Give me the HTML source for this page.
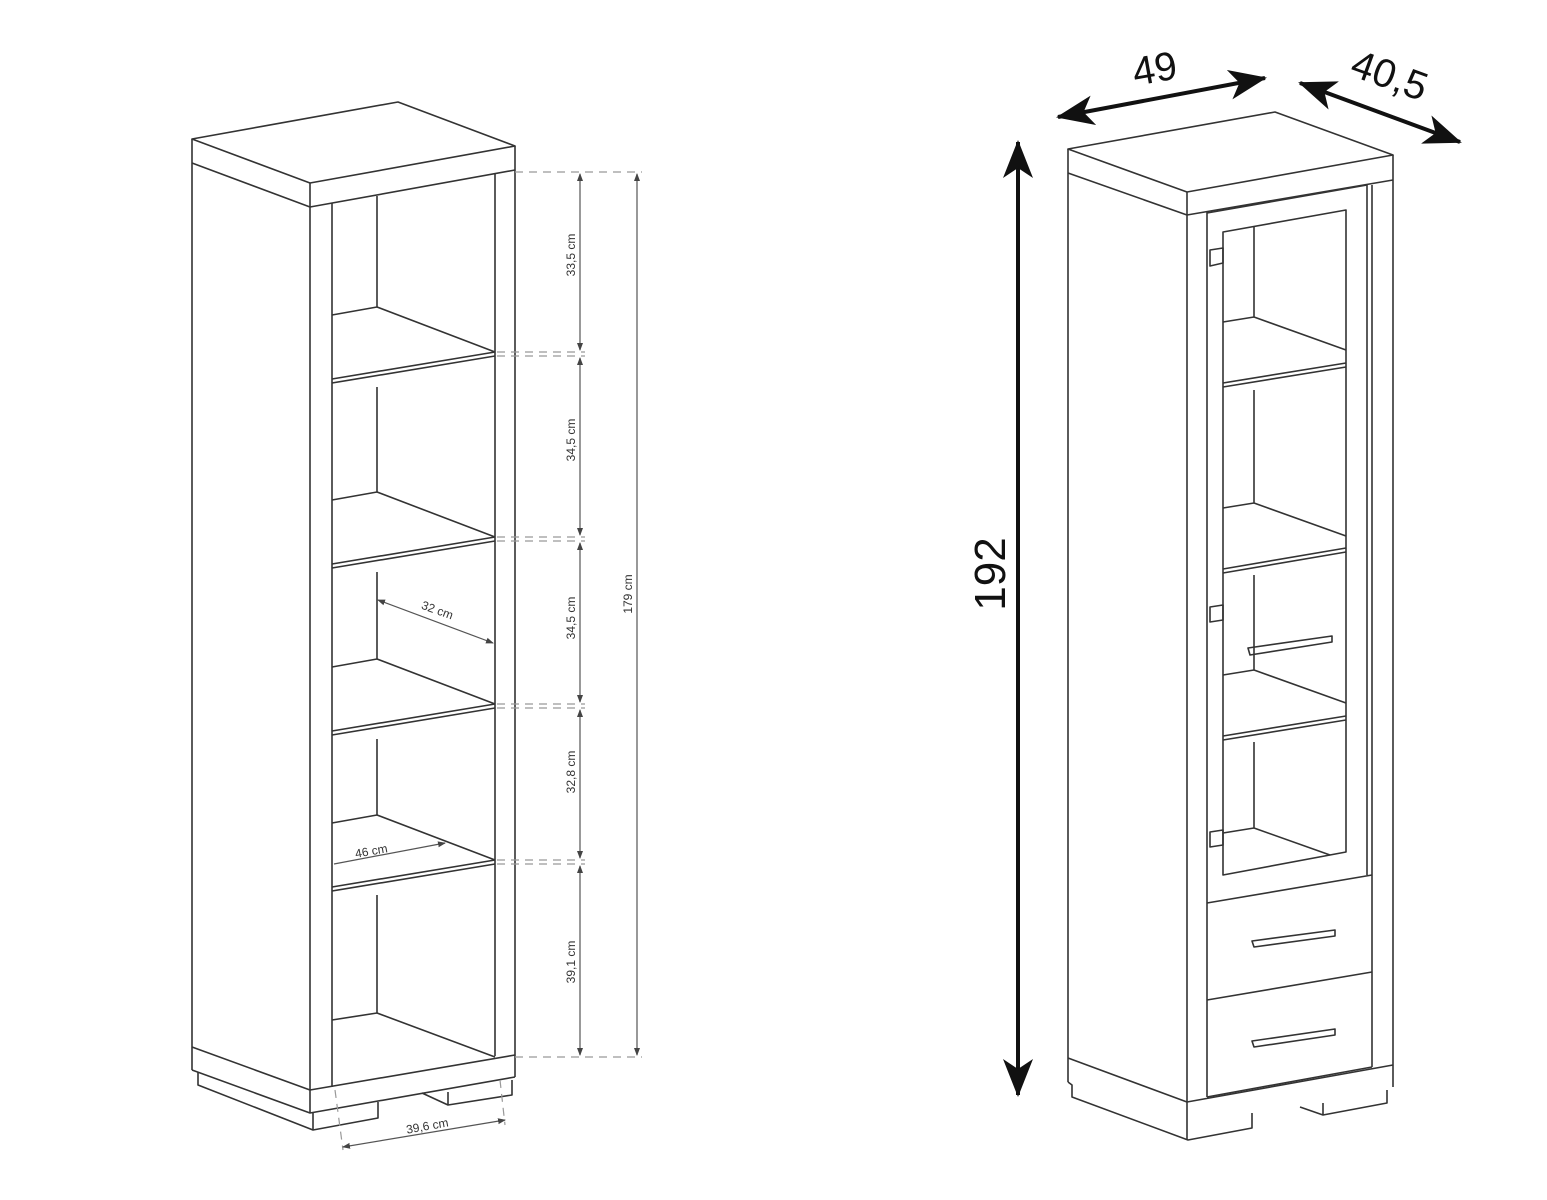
<!DOCTYPE html>
<html><head><meta charset="utf-8"><style>body{margin:0;background:#fff}svg{display:block}</style></head>
<body>
<svg width="1547" height="1200" viewBox="0 0 1547 1200" xmlns="http://www.w3.org/2000/svg">
<defs>
<marker id="sa" markerWidth="8" markerHeight="8" refX="7" refY="4" orient="auto-start-reverse" markerUnits="userSpaceOnUse"><path d="M0,1 L8,4 L0,7 z" fill="#444"/></marker>
<marker id="ba" markerWidth="40" markerHeight="30" refX="36" refY="15" orient="auto-start-reverse" markerUnits="userSpaceOnUse"><path d="M0,0 L38,15 L0,30 L10,15 z" fill="#111"/></marker>
</defs>
<g fill="none" stroke="#333" stroke-width="1.6" stroke-linejoin="round">
<!-- LEFT CABINET -->
<path d="M192,139 L398,102 L515,146 L310,183 Z"/>
<path d="M192,139 L192,1070 M310,183 L310,1113 M515,146 L515,1077"/>
<path d="M192,163 L310,207 L515,170"/>
<path d="M332,203 L332,1087 M495,174 L495,1056 M377,196 L377,307"/>
<!-- shelves -->
<path d="M332,315 L377,307 L495,352 M332,379 L495,352 M332,383 L495,356 M377,387 L377,492"/>
<path d="M332,500 L377,492 L495,537 M332,564 L495,537 M332,568 L495,541 M377,572 L377,659"/>
<path d="M332,667 L377,659 L495,704 M332,731 L495,704 M332,735 L495,708 M377,739 L377,815"/>
<path d="M332,823 L377,815 L495,860 M332,887 L495,860 M332,891 L495,864 M377,895 L377,1013"/>
<path d="M332,1020 L377,1013 L495,1057"/>
<path d="M192,1047 L310,1090 L515,1055"/>
<path d="M192,1070 L310,1113 L515,1077"/>
<path d="M198,1072 L198,1085 L313,1130 L378,1118 L378,1102"/>
<path d="M313,1113 L313,1130"/>
<path d="M422,1093 L448,1105 L512,1095 L512,1080 M448,1092 L448,1105"/>
</g>
<!-- left dimensions -->
<g stroke="#999" stroke-width="1.2" fill="none" stroke-dasharray="8,6">
<path d="M515,172 L642,172 M497,352 L585,352 M497,356 L585,356 M497,537 L585,537 M497,541 L585,541 M497,704 L585,704 M497,708 L585,708 M497,860 L585,860 M497,864 L585,864 M515,1057 L642,1057"/>
<path d="M335,1090 L343,1150 M500,1080 L505,1125"/>
</g>
<g stroke="#555" stroke-width="1.2" fill="none">
<path d="M580,174 L580,350" marker-start="url(#sa)" marker-end="url(#sa)"/>
<path d="M580,358 L580,535" marker-start="url(#sa)" marker-end="url(#sa)"/>
<path d="M580,543 L580,702" marker-start="url(#sa)" marker-end="url(#sa)"/>
<path d="M580,710 L580,858" marker-start="url(#sa)" marker-end="url(#sa)"/>
<path d="M580,866 L580,1055" marker-start="url(#sa)" marker-end="url(#sa)"/>
<path d="M637,174 L637,1055" marker-start="url(#sa)" marker-end="url(#sa)"/>
<path d="M378,600 L493,643" marker-start="url(#sa)" marker-end="url(#sa)"/>
<path d="M334,864 L445,843" marker-end="url(#sa)"/>
<path d="M343,1147 L505,1120" marker-start="url(#sa)" marker-end="url(#sa)"/>
</g>
<g font-family="Liberation Sans, sans-serif" font-size="12" fill="#333" text-anchor="middle">
<text transform="translate(575,255) rotate(-90)">33,5 cm</text>
<text transform="translate(575,440) rotate(-90)">34,5 cm</text>
<text transform="translate(575,618) rotate(-90)">34,5 cm</text>
<text transform="translate(575,772) rotate(-90)">32,8 cm</text>
<text transform="translate(575,962) rotate(-90)">39,1 cm</text>
<text transform="translate(632,594) rotate(-90)">179 cm</text>
<text transform="translate(436,614) rotate(20)">32 cm</text>
<text transform="translate(372,855) rotate(-10)">46 cm</text>
<text transform="translate(428,1130) rotate(-10)">39,6 cm</text>
</g>
<!-- RIGHT CABINET -->
<g fill="none" stroke="#333" stroke-width="1.6" stroke-linejoin="round">
<path d="M1068,149 L1275,112 L1393,155 L1187,192 Z"/>
<path d="M1068,149 L1068,1082 M1187,192 L1187,1140 M1393,155 L1393,1087"/>
<path d="M1068,173 L1187,215 L1393,180"/>
<path d="M1207,212 L1207,1097 M1367,185 L1367,875 M1372,185 L1372,1067"/>
<path d="M1207,213 L1367,185"/>
<path d="M1223,232 L1346,210 L1346,852 L1223,875 Z"/>
<path d="M1254,226 L1254,317 L1223,322 M1254,317 L1346,350 M1223,383 L1346,363 M1223,387 L1346,367"/>
<path d="M1254,390 L1254,503 L1223,508 M1254,503 L1346,536 M1223,569 L1346,548 M1223,573 L1346,552"/>
<path d="M1254,575 L1254,670 L1223,675 M1254,670 L1346,703 M1223,736 L1346,716 M1223,740 L1346,720"/>
<path d="M1254,742 L1254,828 L1223,833 M1254,828 L1330,855"/>
<path d="M1207,903 L1372,875 M1207,1000 L1372,972 M1207,1097 L1372,1067"/>
<path d="M1068,1058 L1187,1102 L1393,1065"/>
<path d="M1068,1082 L1072,1085 L1072,1097 L1188,1140 L1252,1128 L1252,1113"/>
<path d="M1300,1107 L1323,1115 L1387,1103 L1387,1090 M1323,1103 L1323,1115"/>
<path d="M1210,250 L1223,248 L1223,263 L1210,266 Z M1210,607 L1223,605 L1223,620 L1210,622 Z M1210,832 L1223,830 L1223,845 L1210,847 Z"/>
<path d="M1248,648 L1332,636 L1332,642 L1250,655 Z"/>
<path d="M1252,941 L1335,930 L1335,936 L1254,947 Z"/>
<path d="M1252,1041 L1335,1029 L1335,1035 L1254,1047 Z"/>
</g>
<g stroke="#111" stroke-width="4" fill="none">
<path d="M1058,117 L1265,78" marker-start="url(#ba)" marker-end="url(#ba)"/>
<path d="M1300,83 L1460,142" marker-start="url(#ba)" marker-end="url(#ba)"/>
<path d="M1018,142 L1018,1095" marker-start="url(#ba)" marker-end="url(#ba)"/>
</g>
<g font-family="Liberation Sans, sans-serif" font-size="40" fill="#111" text-anchor="middle">
<text transform="translate(1157,82) rotate(-10)">49</text>
<text transform="translate(1385,88) rotate(20)">40,5</text>
<text transform="translate(1005,574) rotate(-90)" font-size="44">192</text>
</g>
</svg>
</body></html>
